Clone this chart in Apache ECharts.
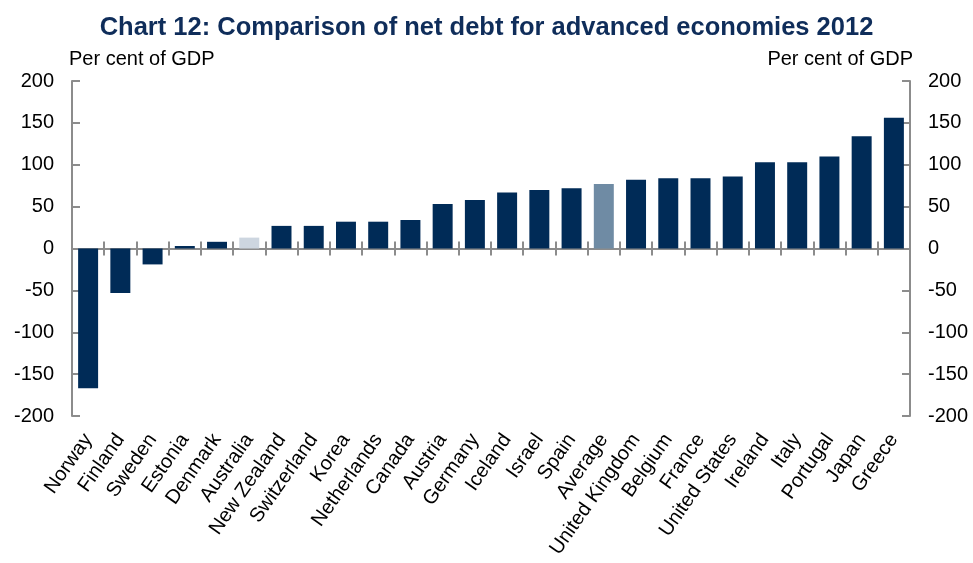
<!DOCTYPE html>
<html>
<head>
<meta charset="utf-8">
<script src="https://cdn.jsdelivr.net/npm/echarts@6/dist/echarts.min.js"></script>
<style>
  html, body { margin: 0; padding: 0; background: #fff; }
  #chart { width: 973px; height: 563px; }
</style>
</head>
<body>
<div id="chart"></div>
<script>
// 数据
const countries = ['Norway', 'Finland', 'Sweden', 'Estonia', 'Denmark', 'Australia', 'New Zealand',
  'Switzerland', 'Korea', 'Netherlands', 'Canada', 'Austria', 'Germany', 'Iceland', 'Israel',
  'Spain', 'Average', 'United Kingdom', 'Belgium', 'France', 'United States', 'Ireland', 'Italy',
  'Portugal', 'Japan', 'Greece']
const netDebt = [-167, -53, -19, 3, 8, 13, 27, 27, 32, 32, 34, 53, 58, 67, 70, 72, 77, 82, 84, 84,
  86, 103, 103, 110, 134, 156]
const yTicks = { min: -200, max: 200, step: 50 }

// 颜色
const barColor = '#002B57'
const specialColors = { Australia: '#CDD6E0', Average: '#6F8BA4' }
const axisGray = '#8C8C8C'
const font = 'Liberation Sans, Arial, sans-serif'

const chartInstance = echarts.init(document.getElementById('chart'))

const valueAxis = (position) => ({
  type: 'value',
  position: position,
  min: yTicks.min,
  max: yTicks.max,
  interval: yTicks.step,
  name: 'Per cent of GDP',
  nameLocation: 'end',
  nameGap: 12,
  nameTextStyle: {
    fontFamily: font,
    fontSize: 20,
    color: '#000',
    align: position === 'left' ? 'left' : 'right',
    verticalAlign: 'bottom',
    padding: position === 'left' ? [0, 0, 0, -3] : [0, -3, 0, 0]
  },
  axisLine: { show: true, lineStyle: { color: axisGray, width: 2 } },
  axisTick: { show: true, inside: true, length: 8, lineStyle: { color: axisGray, width: 2 } },
  axisLabel: { fontFamily: font, fontSize: 20, color: '#000', margin: 18 },
  splitLine: { show: false }
})

// 零线上的类目刻度（上下各一半）
const zeroAxis = (position, yIndex) => ({
  type: 'category',
  data: countries,
  position: position,
  axisLine: { show: true, onZero: true, onZeroAxisIndex: yIndex, lineStyle: { color: axisGray, width: 2 } },
  axisTick: { show: true, interval: 0, length: 7, lineStyle: { color: axisGray, width: 2 } },
  axisLabel: { show: false, interval: 0 }
})

const option = {
  animation: false,
  title: {
    text: 'Chart 12: Comparison of net debt for advanced economies 2012',
    left: 'center',
    top: 10,
    textStyle: { fontFamily: font, fontSize: 25.5, fontWeight: 'bold', color: '#0F2D5A' }
  },
  grid: { left: 72, right: 63, top: 81, bottom: 147 },
  xAxis: [
    {
      // 底部标签
      type: 'category',
      data: countries,
      position: 'bottom',
      axisLine: { show: false, onZero: false },
      axisTick: { show: false },
      axisLabel: { interval: 0, rotate: 55, margin: 20, fontFamily: font, fontSize: 20, color: '#000' }
    },
    zeroAxis('bottom', 0),
    zeroAxis('top', 1)
  ],
  yAxis: [valueAxis('left'), valueAxis('right')],
  series: [
    {
      type: 'bar',
      xAxisIndex: 0,
      yAxisIndex: 0,
      barWidth: '62%',
      data: netDebt,
      itemStyle: {
        color: (p) => specialColors[countries[p.dataIndex]] || barColor
      }
    }
  ]
}

chartInstance.setOption(option)
window.addEventListener('resize', () => chartInstance.resize())
</script>
</body>
</html>
